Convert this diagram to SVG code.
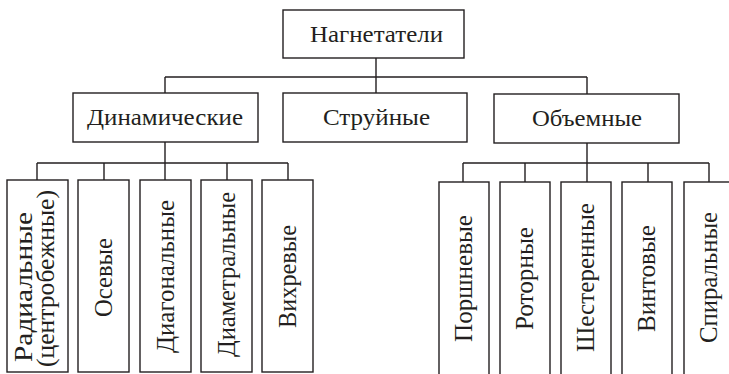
<svg xmlns="http://www.w3.org/2000/svg" width="729" height="374" viewBox="0 0 729 374">
<style>
.box{fill:#fff;stroke:#231f20;stroke-width:1.4}
.ln{fill:none;stroke:#231f20;stroke-width:1.4}
.t{font-family:"Liberation Serif","Times New Roman",serif;font-size:24px;fill:#231f20;text-anchor:middle}
.v{font-family:"Liberation Serif","Times New Roman",serif;font-size:26px;fill:#231f20;text-anchor:middle}
</style>
<rect width="729" height="374" fill="#fff"/>
<g id="connectors">
<path class="ln" d="M376 58V93M165 77H587M165 77V93M587 77V94"/>
<path class="ln" d="M165 142V163M37 163H288M37 163V180M104 163V180M165 163V180M227 163V180M288 163V180"/>
<path class="ln" d="M587 143V163M463 163H709M463 163V182M525 163V182M587 163V182M648 163V182M709 163V182"/>
</g>
<g id="n-root"><rect class="box" x="283" y="10" width="181" height="48"/><text class="t" x="376.5" y="42" textLength="133" lengthAdjust="spacingAndGlyphs">Нагнетатели</text></g>
<g id="n-dyn"><rect class="box" x="73" y="93" width="185" height="49"/><text class="t" x="165" y="125" textLength="156" lengthAdjust="spacingAndGlyphs">Динамические</text></g>
<g id="n-jet"><rect class="box" x="283" y="93" width="184" height="49"/><text class="t" x="376.5" y="125" textLength="107" lengthAdjust="spacingAndGlyphs">Струйные</text></g>
<g id="n-vol"><rect class="box" x="494" y="94" width="185" height="49"/><text class="t" x="587" y="126" textLength="110" lengthAdjust="spacingAndGlyphs">Объемные</text></g>
<g id="n-rad"><rect class="box" x="7" y="180" width="61" height="192"/><text class="v" transform="translate(32 287) rotate(-90)" textLength="150" lengthAdjust="spacingAndGlyphs">Радиальные</text><text class="v" transform="translate(54 278.5) rotate(-90)" textLength="177" lengthAdjust="spacingAndGlyphs">(центробежные)</text></g>
<g id="n-axial"><rect class="box" x="78" y="180" width="51" height="192"/><text class="v" transform="translate(112 277.5) rotate(-90)" textLength="79" lengthAdjust="spacingAndGlyphs">Осевые</text></g>
<g id="n-diag"><rect class="box" x="140" y="180" width="51" height="192"/><text class="v" transform="translate(174 276.5) rotate(-90)" textLength="153" lengthAdjust="spacingAndGlyphs">Диагональные</text></g>
<g id="n-diam"><rect class="box" x="201" y="180" width="51" height="192"/><text class="v" transform="translate(235 274.5) rotate(-90)" textLength="165" lengthAdjust="spacingAndGlyphs">Диаметральные</text></g>
<g id="n-vortex"><rect class="box" x="262" y="180" width="51" height="192"/><text class="v" transform="translate(296 276.5) rotate(-90)" textLength="103" lengthAdjust="spacingAndGlyphs">Вихревые</text></g>
<g id="n-piston"><rect class="box" x="439" y="182" width="50" height="200"/><text class="v" transform="translate(472 278.5) rotate(-90)" textLength="127" lengthAdjust="spacingAndGlyphs">Поршневые</text></g>
<g id="n-rotor"><rect class="box" x="500" y="182" width="50" height="200"/><text class="v" transform="translate(533 278.5) rotate(-90)" textLength="103" lengthAdjust="spacingAndGlyphs">Роторные</text></g>
<g id="n-gear"><rect class="box" x="561" y="182" width="50" height="200"/><text class="v" transform="translate(594 277.5) rotate(-90)" textLength="149" lengthAdjust="spacingAndGlyphs">Шестеренные</text></g>
<g id="n-screw"><rect class="box" x="622" y="182" width="50" height="200"/><text class="v" transform="translate(655 278.5) rotate(-90)" textLength="107" lengthAdjust="spacingAndGlyphs">Винтовые</text></g>
<g id="n-spiral"><rect class="box" x="684" y="182" width="50" height="200"/><text class="v" transform="translate(717 277.5) rotate(-90)" textLength="131" lengthAdjust="spacingAndGlyphs">Спиральные</text></g>
</svg>
